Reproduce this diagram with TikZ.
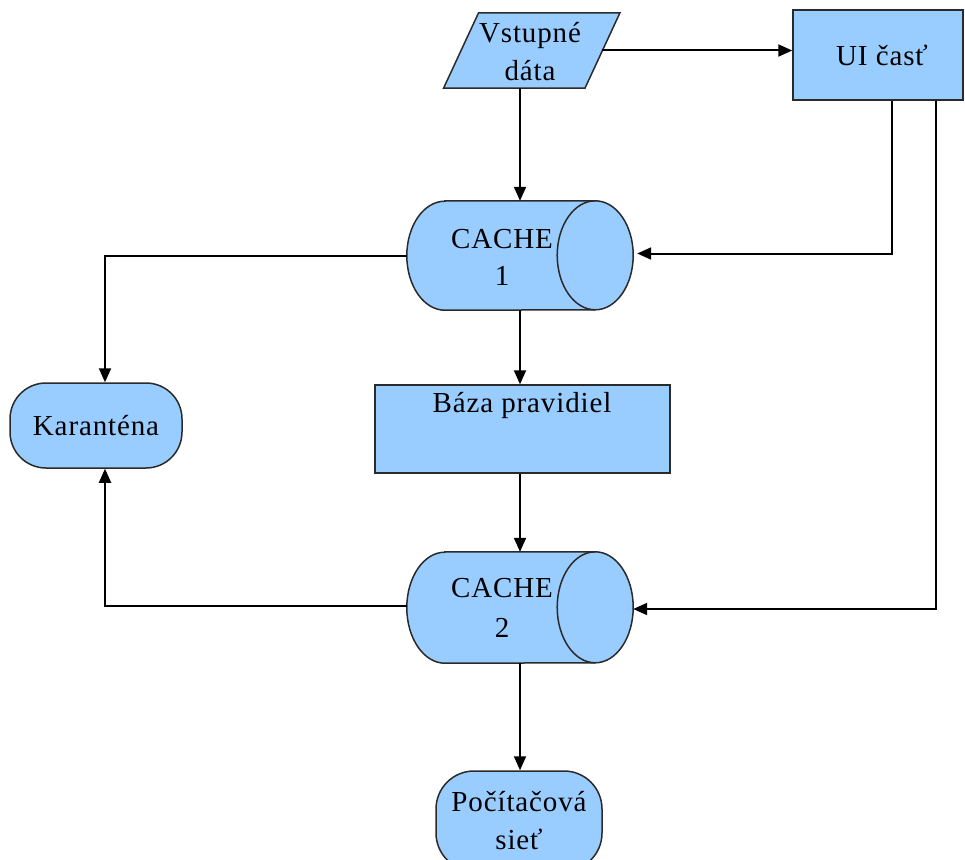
\documentclass[tikz,border=0pt]{standalone}
\usepackage{fontspec}
\setmainfont{Liberation Serif}[LetterSpace=3]
\usetikzlibrary{arrows.meta,backgrounds}
\definecolor{boxfill}{HTML}{99CCFF}
\definecolor{boxline}{HTML}{2A2A2A}
\newcommand\cylbody[2]{%
  \path[fill=boxfill,draw=boxline,line width=1.5pt]
    ([xshift=38pt]#1.north west) -- ([xshift=-38pt]#1.north east)
    arc[start angle=90,end angle=-90,x radius=38pt,y radius=#2]
    -- ([xshift=38pt]#1.south west)
    arc[start angle=270,end angle=90,x radius=38pt,y radius=#2] -- cycle;
  \draw[boxline,line width=1.5pt] ([xshift=-38pt]#1.north east)
    arc[start angle=90,end angle=270,x radius=38pt,y radius=#2];}
\tikzset{
  boxshape/.style={draw=boxline,fill=boxfill,line width=1.5pt,inner sep=0pt},
  plainshape/.style={inner sep=0pt},
  txt/.style={font=\fontsize{29}{38}\selectfont,align=center,inner sep=0pt},
  arr/.style={line width=2pt,black,-{Triangle[length=14pt,width=12pt]}}
}
\begin{document}
\begin{tikzpicture}[x=1pt,y=-1pt]
\useasboundingbox (0,0) rectangle (965,859);
% input data (parallelogram)
\node[plainshape,minimum width=141pt,minimum height=75pt] (vd) at (531.75,50.5) {};
\path[fill=boxfill,draw=boxline,line width=1.5pt]
  ([xshift=17.5pt]vd.north west) -- ([xshift=17.5pt]vd.north east)
  -- ([xshift=-17.5pt]vd.south east) -- ([xshift=-17.5pt]vd.south west) -- cycle;
\node[txt] (vdt) at (530,52) {Vstupné\\dáta};
% UI
\node[boxshape,minimum width=170pt,minimum height=90pt] (ui) at (878,55) {};
\node[txt] (uit) at (882,55) {UI časť};
% CACHE 1
\node[plainshape,minimum width=226pt,minimum height=109pt] (c1) at (520,255.5) {};
\cylbody{c1}{54.5pt}
\node[txt,font=\fontsize{29}{37}\selectfont] (c1t) at (502,257) {CACHE\\1};
% Karantena
\node[boxshape,rounded corners=36pt,minimum width=172pt,minimum height=85pt,txt] (kar) at (96,425.5) {Karanténa};
% Baza pravidiel
\node[boxshape,minimum width=295pt,minimum height=88pt] (baza) at (522.5,429) {};
\node[txt] (bazat) at (522,405) {Báza pravidiel};
% CACHE 2
\node[plainshape,minimum width=226pt,minimum height=111pt] (c2) at (520,607.5) {};
\cylbody{c2}{55.5pt}
\node[txt,font=\fontsize{29}{40}\selectfont] (c2t) at (502,608) {CACHE\\2};
% Pocitacova siet
\node[boxshape,rounded corners=38pt,minimum width=166pt,minimum height=100pt] (pc) at (519,821) {};
\node[txt] (pct) at (519,821) {Počítačová\\sieť};
% connectors
\draw[arr] (vd.east) -- (ui.west |- vd.east);
\draw[arr] (c1.north |- vd.south) -- (c1.north);
\draw[arr] ([xshift=14pt]ui.south) |- ([xshift=4pt,yshift=2pt]c1.east);
\draw[arr] ([xshift=58pt]ui.south) |- ([yshift=-1.5pt]c2.east);
\draw[arr] (c1.west) -| ([xshift=9pt]kar.north);
\draw[arr] (c1.south) -- (c1.south |- baza.north);
\draw[arr] (c2.north |- baza.south) -- (c2.north);
\draw[arr] ([yshift=2pt]c2.west) -| ([xshift=9pt]kar.south);
\draw[arr] (c2.south) -- (c2.south |- pc.north);
\end{tikzpicture}
\end{document}
